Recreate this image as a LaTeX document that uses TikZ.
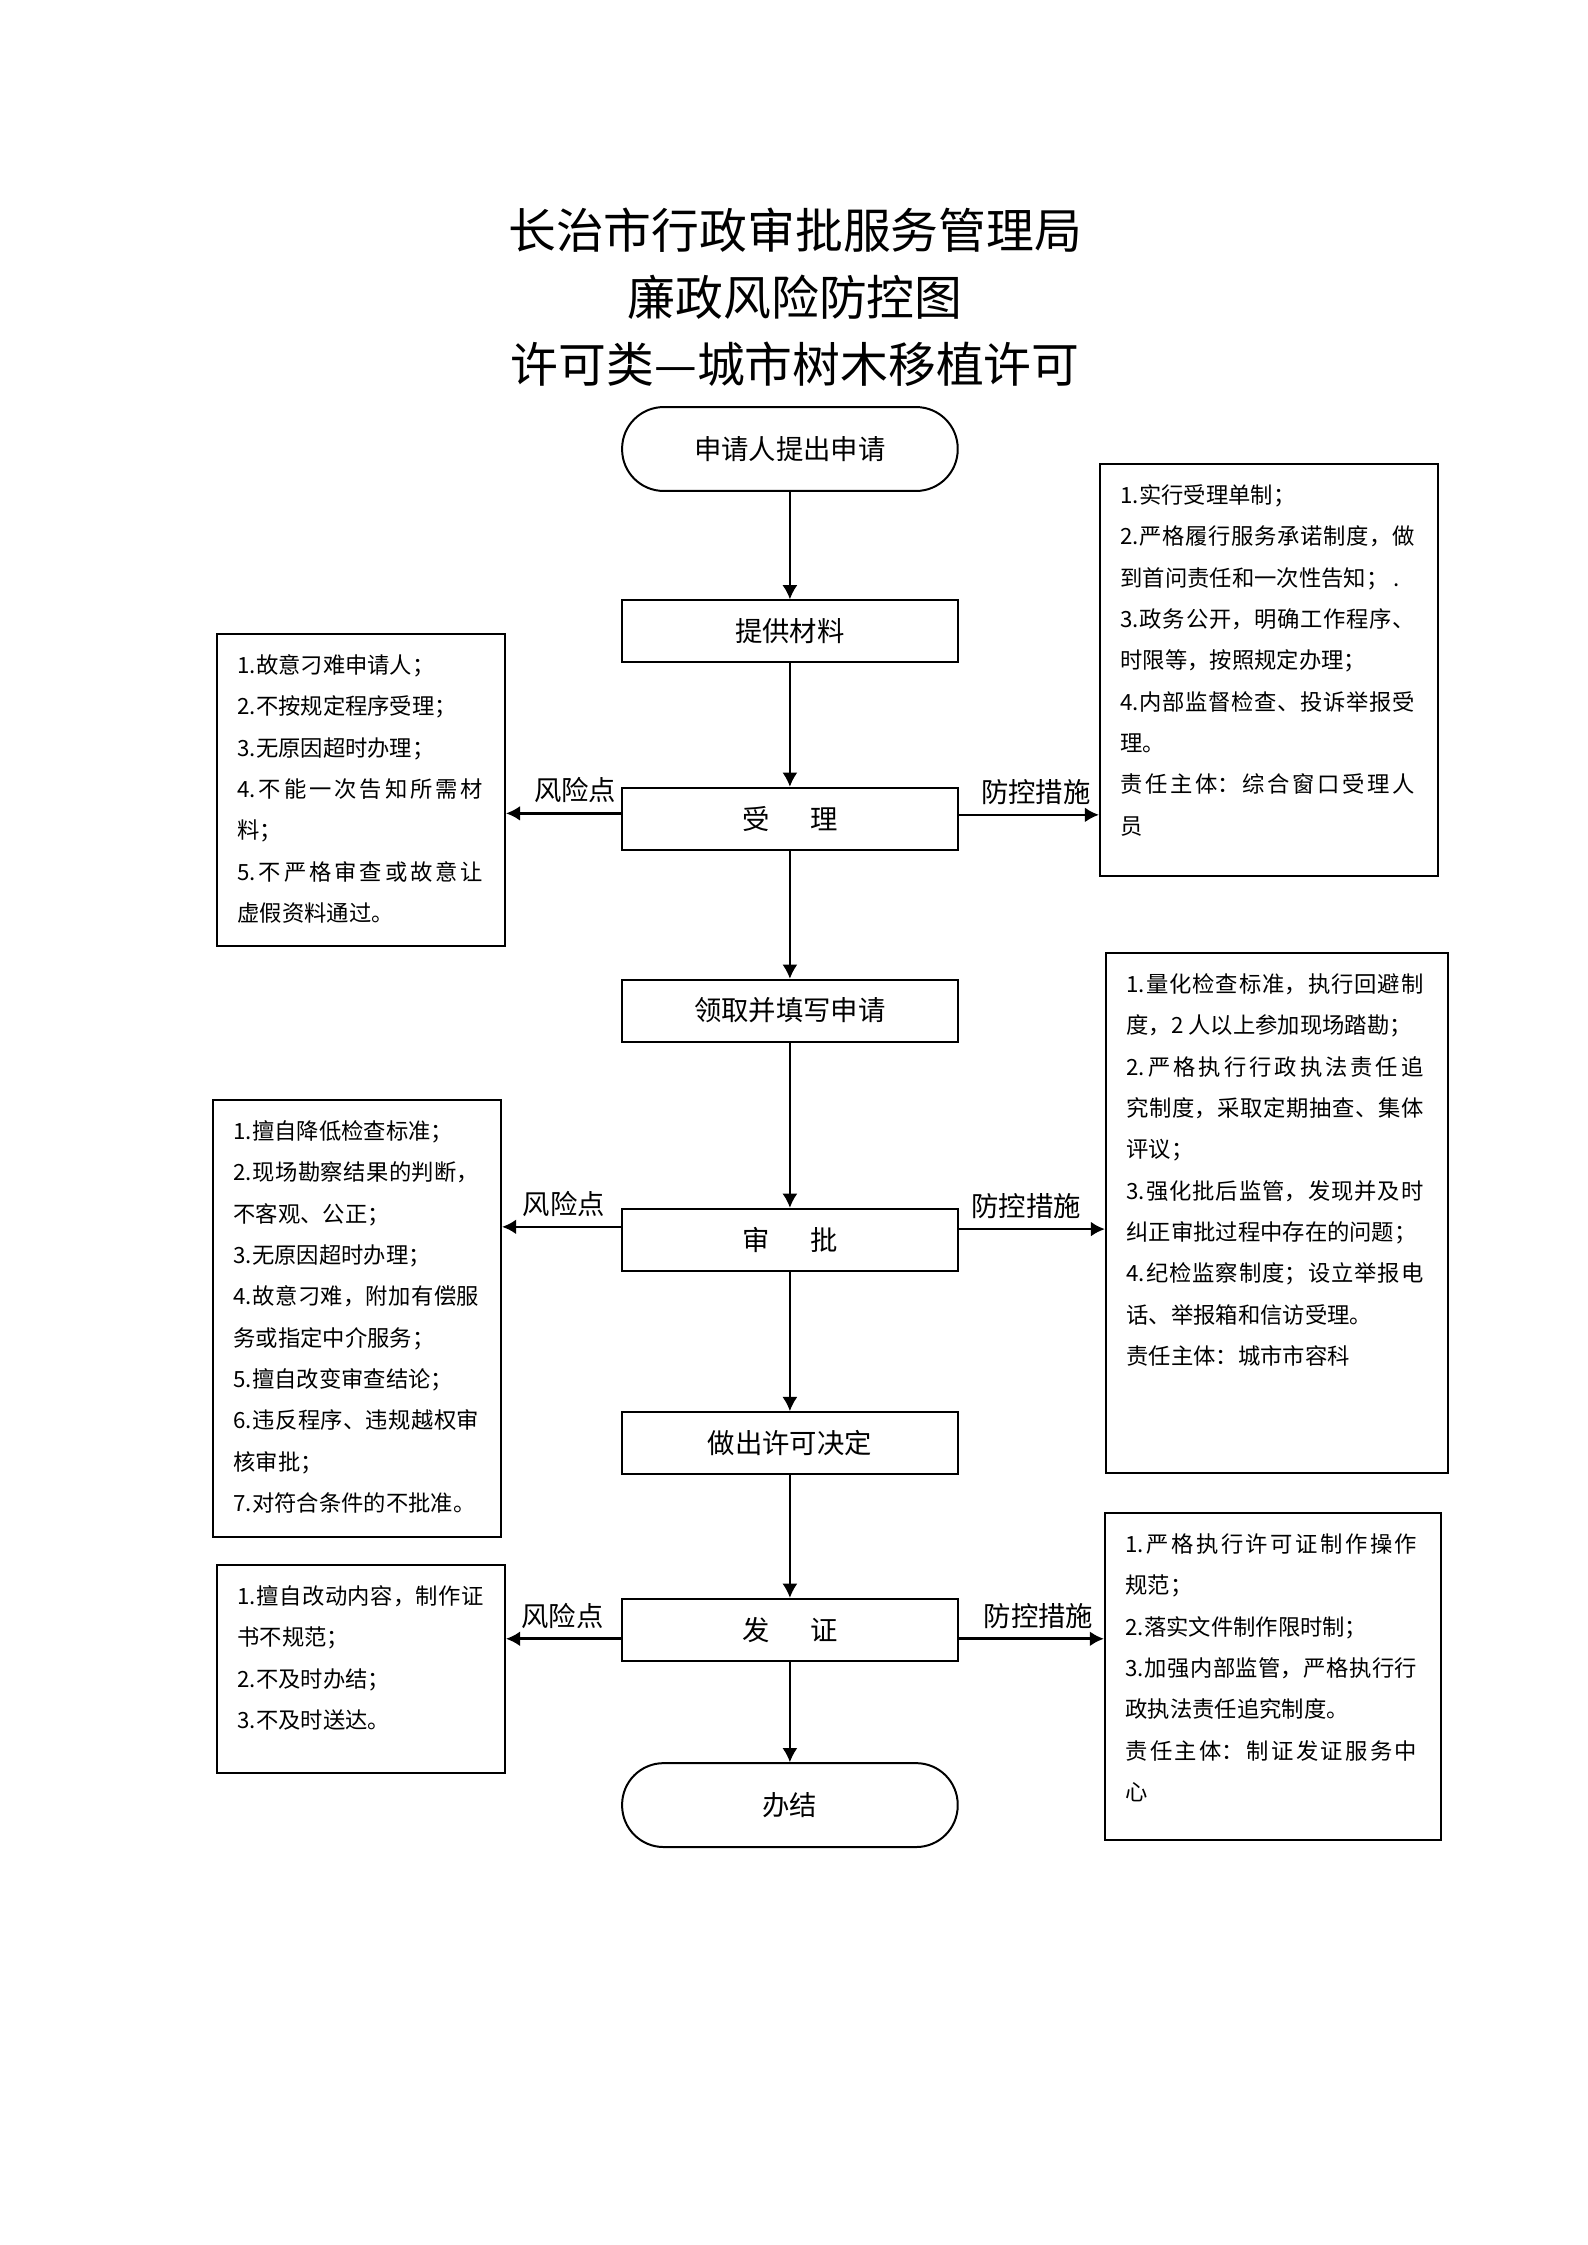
\documentclass[tikz,border=0pt]{standalone}
\usepackage{fontspec}
\setmainfont{Noto Sans CJK SC}
\XeTeXlinebreaklocale "zh"
\XeTeXlinebreakskip=0pt plus 2pt
\setlength{\parindent}{0pt}
\usetikzlibrary{arrows.meta,positioning}

\begin{document}
\begin{tikzpicture}
		[   stepnode/.style={draw=black,line width=0.75pt,minimum width=4.44cm,minimum height=0.82cm,inner sep=0pt,font=\fontsize{10.3}{12}\selectfont},
			endnode/.style={stepnode,minimum height=1.11cm,rounded corners=0.55cm},
			sidebox/.style={draw=black,line width=0.75pt,anchor=north west,inner sep=0pt,minimum width=#1},
			sidetext/.style={anchor=north west,align=justify,text width=#1,inner sep=0pt,font=\fontsize{8.4}{15.56}\selectfont},
		]
		\tikzset{normal arrow/.style={draw,line width=0.5pt,-{Latex[length=5.3pt,width=5.6pt]}},
			side arrow/.style={draw,line width=1pt,-{Latex[length=5.3pt,width=5.6pt]}}}
		\useasboundingbox (0,0) rectangle (21,-29.7);
		
		\node[align=center,font=\fontsize{18}{25.2}\selectfont] (title) at (10.52,-3.93) {长治市行政审批服务管理局\\廉政风险防控图\\许可类—城市树木移植许可};
		
		% main steps
		\node[endnode] (start) at (10.45,-5.94) {申请人提出申请};
		\node[stepnode] (cailiao) at (10.45,-8.35) {提供材料};
		\node[stepnode] (shouli) at (10.45,-10.83) {受\hspace{1.5em}理};
		\node[stepnode] (lingqu) at (10.45,-13.37) {领取并填写申请};
		\node[stepnode] (shenpi) at (10.45,-16.40) {审\hspace{1.5em}批};
		\node[stepnode] (jueding) at (10.45,-19.09) {做出许可决定};
		\node[stepnode] (fazheng) at (10.45,-21.56) {发\hspace{1.5em}证};
		\node[endnode] (banjie) at (10.45,-23.88) {办结};
		
		% risk points
		\node[sidebox=3.81cm,minimum height=4.127cm] (l1) at (2.857,-8.374) {};
		\node[sidebox=3.81cm,minimum height=5.781cm] (l2) at (2.805,-14.539) {};
		\node[sidebox=3.81cm,minimum height=2.752cm] (l3) at (2.857,-20.690) {};
		
		% control measures
		\node[sidebox=4.471cm,minimum height=5.450cm] (r1) at (14.539,-6.125) {};
		\node[sidebox=4.524cm,minimum height=6.879cm] (r2) at (14.618,-12.594) {};
		\node[sidebox=4.445cm,minimum height=4.326cm] (r3) at (14.605,-20.002) {};
		
		\node[sidetext=3.25cm] (l1-t) at ([xshift=0.278cm,yshift=-0.28cm]l1.north west) {1.故意刁难申请人；\\2.不按规定程序受理；\\3.无原因超时办理；\\4.不能一次告知所需材\linebreak 料；\\5.不严格审查或故意让\linebreak 虚假资料通过。};
		\node[sidetext=3.25cm] (l2-t) at ([xshift=0.278cm,yshift=-0.28cm]l2.north west) {1.擅自降低检查标准；\\2.现场勘察结果的判断，\linebreak 不客观、公正；\\3.无原因超时办理；\\4.故意刁难，附加有偿服\linebreak 务或指定中介服务；\\5.擅自改变审查结论；\\6.违反程序、违规越权审\linebreak 核审批；\\7.对符合条件的不批准。};
		\node[sidetext=3.26cm] (l3-t) at ([xshift=0.278cm,yshift=-0.28cm]l3.north west) {1.擅自改动内容，制作证\linebreak 书不规范；\\2.不及时办结；\\3.不及时送达。};
		
		\node[sidetext=3.89cm] (r1-t) at ([xshift=0.278cm,yshift=-0.28cm]r1.north west) {1.实行受理单制；\\2.严格履行服务承诺制度，做\linebreak 到首问责任和一次性告知；\ .\\3.政务公开，明确工作程序、\linebreak 时限等，按照规定办理；\\4.内部监督检查、投诉举报受\linebreak 理。\\责任主体：综合窗口受理人\linebreak 员};
		\node[sidetext=3.93cm] (r2-t) at ([xshift=0.278cm,yshift=-0.28cm]r2.north west) {1.量化检查标准，执行回避制\linebreak 度，2 人以上参加现场踏勘；\\2.严格执行行政执法责任追\linebreak 究制度，采取定期抽查、集体\linebreak 评议；\\3.强化批后监管，发现并及时\linebreak 纠正审批过程中存在的问题；\\4.纪检监察制度；设立举报电\linebreak 话、举报箱和信访受理。\\责任主体：城市市容科};
		\node[sidetext=3.86cm] (r3-t) at ([xshift=0.278cm,yshift=-0.28cm]r3.north west) {1.严格执行许可证制作操作\linebreak 规范；\\2.落实文件制作限时制；\\3.加强内部监管，严格执行行\linebreak 政执法责任追究制度。\\责任主体：制证发证服务中\linebreak 心};
		
		\foreach \a/\b in {start/cailiao,cailiao/shouli,shouli/lingqu,lingqu/shenpi,shenpi/jueding,jueding/fazheng,fazheng/banjie}
		{
			\path[normal arrow] (\a) -- (\b);
		}
		
		\foreach \c/\l/\r/\dl/\dr/\pl/\pr in {shouli/l1/r1/0.07/0.05/0.40/0.55,shenpi/l2/r2/0.17/0.14/0.48/0.46,fazheng/l3/r3/-0.12/-0.12/0.51/0.55}
		{
			\coordinate (\c-lw) at ([yshift=\dl cm]\c.west);
			\coordinate (\c-re) at ([yshift=\dr cm]\c.east);
			\path[side arrow] (\c-lw) -- node[above,pos=\pl,font=\fontsize{10.3}{12}\selectfont] {风险点} (\c-lw -| \l.east);
			\path[side arrow] (\c-re) -- node[above,pos=\pr,font=\fontsize{10.3}{12}\selectfont] {防控措施} (\c-re -| \r.west);
		}
		
\end{tikzpicture}
\end{document}
